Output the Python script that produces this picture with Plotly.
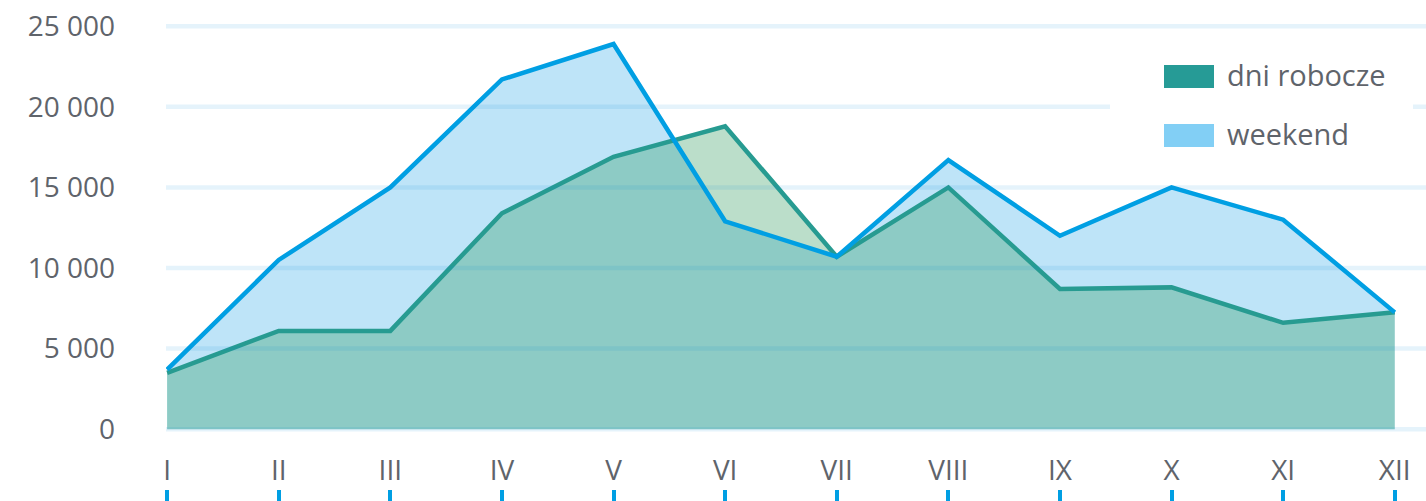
from __future__ import annotations

import plotly.graph_objects as go

# --- data ----------------------------------------------------------------
MONTHS = ["I", "II", "III", "IV", "V", "VI", "VII", "VIII", "IX", "X", "XI", "XII"]
WORKDAYS = [3500, 6100, 6100, 13400, 16900, 18800, 10700, 15000, 8700, 8800, 6600, 7250]
WEEKEND = [3700, 10500, 15000, 21700, 23900, 12900, 10700, 16700, 12000, 15000, 13000, 7250]
Y_TICKS = [0, 5000, 10000, 15000, 20000, 25000]
SERIES_NAMES = ["dni robocze", "weekend"]

# --- style ----------------------------------------------------------------
TEXT = "#5f646b"
FONT = "Open Sans"
BLUE_LINE = "#009fe3"
BLUE_FILL = "#bee4f8"
BLUE_SWATCH = "#82cff5"
GREEN_LINE = "#279b91"
GREEN_FILL = "rgba(30,145,78,0.30)"
GREEN_SWATCH = "#269b96"
GRID = "rgba(0,140,220,0.10)"

W, H = 1426, 501
M_LEFT = 166
PLOT_BOTTOM_FRAC = 0.124   # leaves room for the roman month labels


def px_x(px: float) -> float:
    return (px - M_LEFT) / (W - M_LEFT)


def px_y(px: float) -> float:
    return 1 - px / H


fig = go.Figure()

# fills first, lines on top
fig.add_trace(go.Scatter(
    x=MONTHS, y=WEEKEND, mode="none", fill="tozeroy", fillcolor=BLUE_FILL,
    hoverinfo="skip", showlegend=False,
))
fig.add_trace(go.Scatter(
    x=MONTHS, y=WORKDAYS, mode="none", fill="tozeroy", fillcolor=GREEN_FILL,
    hoverinfo="skip", showlegend=False,
))
fig.add_trace(go.Scatter(
    x=MONTHS, y=WORKDAYS, mode="lines", name=SERIES_NAMES[0],
    line=dict(color=GREEN_LINE, width=4.5), showlegend=False,
))
fig.add_trace(go.Scatter(
    x=MONTHS, y=WEEKEND, mode="lines", name=SERIES_NAMES[1],
    line=dict(color=BLUE_LINE, width=4.5), showlegend=False,
))
# invisible carrier so the bottom tick-mark axis gets drawn
fig.add_trace(go.Scatter(
    x=MONTHS, y=WEEKEND, mode="none", xaxis="x2", hoverinfo="skip",
    showlegend=False,
))

# gridlines drawn above the fills so they tint through them
for v in Y_TICKS:
    fig.add_shape(type="line", xref="paper", x0=0, x1=1, yref="y", y0=v, y1=v,
                  line=dict(color=GRID, width=4.5), layer="above")

# hand-made legend: white box, wide swatches, labels
fig.add_shape(type="rect", xref="paper", yref="paper",
              x0=px_x(1110), x1=px_x(1413), y0=px_y(170), y1=px_y(40),
              fillcolor="white", line=dict(width=0), layer="above")
for name, color, top in [(SERIES_NAMES[0], GREEN_SWATCH, 65),
                         (SERIES_NAMES[1], BLUE_SWATCH, 124)]:
    fig.add_shape(type="rect", xref="paper", yref="paper",
                  x0=px_x(1164), x1=px_x(1214), y0=px_y(top + 23), y1=px_y(top),
                  fillcolor=color, line=dict(width=0), layer="above")
    fig.add_annotation(text=name, xref="paper", yref="paper",
                       x=px_x(1225), y=px_y(top + 10), xanchor="left",
                       yanchor="middle", showarrow=False,
                       font=dict(family=FONT, size=29, color=TEXT))

x_range = [-0.01, 11.28]
fig.update_layout(
    width=W, height=H,
    paper_bgcolor="white", plot_bgcolor="white",
    margin=dict(l=M_LEFT, r=0, t=0, b=0),
    font=dict(family=FONT, color=TEXT, size=28),
    separators=", ",
    showlegend=False,
    xaxis=dict(
        type="category", range=x_range, showgrid=False, zeroline=False,
        showline=False, ticks="", automargin=False, ticklabelstandoff=12,
        tickfont=dict(family=FONT, size=28, color=TEXT),
    ),
    xaxis2=dict(
        type="category", range=x_range, overlaying="x", anchor="free",
        position=0, side="bottom", showgrid=False, zeroline=False,
        showline=False, showticklabels=False, ticks="inside", ticklen=11,
        tickwidth=4, tickcolor=BLUE_LINE, automargin=False,
    ),
    yaxis=dict(
        domain=[PLOT_BOTTOM_FRAC, 1], range=[-600, 26631], tickvals=Y_TICKS,
        tickformat=",d", showgrid=False, zeroline=False, showline=False,
        ticks="", ticklabelstandoff=50, automargin=False,
        ticklabeloverflow="allow",
        tickfont=dict(family=FONT, size=28, color=TEXT),
    ),
)

# drop the browser's default 8px body margin so the figure fills the window
fig.write_html("out.html", config={"displayModeBar": False},
               post_script="document.body.style.margin='0';")
